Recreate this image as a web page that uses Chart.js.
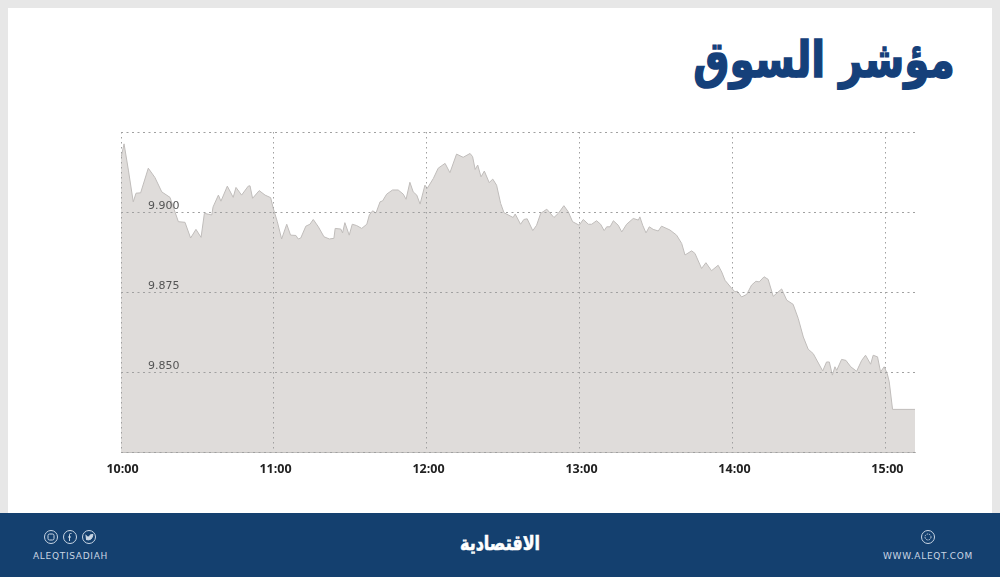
<!DOCTYPE html>
<html lang="ar">
<head>
<meta charset="utf-8">
<title>مؤشر السوق</title>
<script src="https://cdn.jsdelivr.net/npm/chart.js@4"></script>
<style>
  html, body { margin: 0; padding: 0; }
  body { width: 1000px; height: 577px; position: relative; overflow: hidden; background: #e7e7e7; }
  #panel { position: absolute; left: 8px; top: 8px; width: 984px; height: 505px; background: #fff; }
  #title { position: absolute; right: 45px; top: 31px; color: #15407a; direction: rtl;
           font: bold 50px "DejaVu Sans", sans-serif; white-space: nowrap;
           transform: scaleX(0.81); transform-origin: right center; -webkit-text-stroke: 1.6px #15407a; }
  #footer { position: absolute; left: 0; top: 513px; width: 1000px; height: 64px; background: #14406f; }
  #logo { position: absolute; left: 400px; width: 200px; top: 18px; text-align: center; color: #fff;
          direction: rtl; font: bold 20px "DejaVu Sans", sans-serif; transform: scaleX(0.8);
          -webkit-text-stroke: 0.6px #fff; }
  .handle { position: absolute; top: 38px; color: #c9d6e4; font: 9px "DejaVu Sans", sans-serif; letter-spacing: 0.7px; white-space: nowrap; }
  svg { position: absolute; }
  canvas { position: absolute; left: 0; top: 0; }
</style>
</head>
<body>
<div id="panel"></div>
<div id="title">مؤشر السوق</div>
<div id="footer">
  <svg style="left:43px;top:16px" width="56" height="16" viewBox="0 0 56 16" fill="none" stroke="#c9d6e4">
    <circle cx="8" cy="8" r="6.5"/><rect x="5" y="5" width="6" height="6" rx="1.5"/>
    <circle cx="27" cy="8" r="6.5"/><path d="M28.5 4.5h-1q-1 0-1 1V12M25 8h3"/>
    <circle cx="46" cy="8" r="6.5"/><path d="M42.5 6q2 2.5 4 2 0-2.500 2-2.500l1.500 0q-.5 3-2 4.500-2 1.500-5 .5" fill="#c9d6e4"/>
  </svg>
  <div class="handle" style="left:33px">ALEQTISADIAH</div>
  <div id="logo">الاقتصادية</div>
  <svg style="left:920px;top:16px" width="16" height="16" viewBox="0 0 16 16" fill="none" stroke="#c9d6e4">
    <circle cx="8" cy="8" r="6.500"/><circle cx="8" cy="8" r="3" stroke-dasharray="1.500 1"/>
  </svg>
  <div class="handle" style="left:883px">WWW.ALEQT.COM</div>
</div>
<canvas id="myChart" width="1000" height="577"></canvas>

<script>
// minutes since 10:00
const minutes = [0,1.2,2.9,4.8,5.9,7.7,10.7,13.3,16,19.2,20.8,22.5,25.1,27.3,29.4,31.4,32.7,35.6,36.1,38.2,39.2,41.7,44,45.1,47.3,49.9,50.6,51.6,54.2,56.5,58.7,59.7,
  61.3,63,65,66.5,68.6,69.5,70.5,72.5,74.1,75.4,77.4,79.6,81.7,83.5,84,86.2,86.9,87.8,89.5,90.7,92.4,94.4,96.4,97.4,98.7,100,101.6,102.6,104.2,106.5,108.7,110.7,111.8,113.3,114.6,116,117.3,119.2,
  120.1,122.5,124.4,127.1,129,131.6,134.2,136.9,137.9,138.9,139.9,141.2,142.5,144.4,145.8,147.3,148.9,150.2,153.8,154.6,156.7,158,159.3,161.5,163,164.6,167,169.8,171.5,173.7,175.4,177.1,179.7,
  181.3,183.3,184.6,186.5,188.1,189.5,190.5,191.8,193.1,195,196.4,198.3,200.9,202.9,203.5,204.6,205.9,207.2,208.7,210.7,212,215.3,217.9,219.9,221.2,223.8,225.1,227.7,229.4,231.6,234.2,235.6,236.9,239.5,
  240.8,241.7,243.4,245.4,247.3,249,250.3,252.2,253.8,255.8,259.1,261.1,263.6,265.6,267.6,269.5,271.5,275.2,276.7,277.8,279,280,280.7,282.6,284.3,286.2,288.5,290.5,292,294,295,296.7,297.9,299.3,
  300.5,301.3,302.6,311.4];
const index = [9.9169,9.9213,9.9131,9.9032,9.9059,9.9060,9.9137,9.9108,9.9063,9.9046,9.9009,9.8970,9.8968,9.8919,9.8946,9.8921,9.8996,9.8991,9.9016,9.9053,9.9034,9.9081,9.9046,9.9077,9.9053,9.9081,9.9082,9.9043,9.9067,9.9053,9.9045,9.9012,
  9.8970,9.8916,9.8962,9.8928,9.8927,9.8916,9.8919,9.8956,9.8962,9.8977,9.8954,9.8923,9.8916,9.8918,9.8949,9.8947,9.8935,9.8967,9.8928,9.8962,9.8958,9.8949,9.8962,9.8991,9.9004,9.8997,9.9032,9.9035,9.9056,9.9069,9.9069,9.9056,9.9040,9.9093,9.9063,9.9053,9.9025,9.9084,
  9.9074,9.9105,9.9137,9.9152,9.9123,9.9181,9.9171,9.9183,9.9173,9.9133,9.9147,9.9110,9.9128,9.9092,9.9103,9.9084,9.9027,9.8998,9.8983,9.8994,9.8962,9.8977,9.8979,9.8942,9.8959,9.8996,9.9009,9.8983,9.8996,9.9020,9.9001,9.8970,9.8959,
  9.8977,9.8962,9.8962,9.8973,9.8962,9.8942,9.8954,9.8954,9.8973,9.8959,9.8938,9.8962,9.8980,9.8975,9.8985,9.8959,9.8935,9.8954,9.8946,9.8941,9.8956,9.8944,9.8928,9.8902,9.8866,9.8879,9.8871,9.8824,9.8842,9.8817,9.8834,9.8813,9.8787,9.8762,
  9.8751,9.8753,9.8735,9.8743,9.8772,9.8784,9.8782,9.8798,9.8790,9.8737,9.8760,9.8725,9.8712,9.8668,9.8610,9.8572,9.8558,9.8504,9.8532,9.8532,9.8491,9.8517,9.8506,9.8540,9.8537,9.8517,9.8503,9.8537,9.8553,9.8525,9.8553,9.8548,9.8501,9.8517,
  9.8496,9.8470,9.8384,9.8384];
const timeLabels = ['10:00', '11:00', '12:00', '13:00', '14:00', '15:00'];
const valueLabels = { '9.900': true, '9.875': true, '9.850': true };

const ctx = document.getElementById('myChart');

new Chart(ctx, {
  type: 'line',
  data: {
    datasets: [{
      label: 'مؤشر السوق',
      data: minutes.map((m, i) => ({ x: m, y: index[i] })),
      borderColor: '#c0bdbb',
      borderWidth: 1,
      backgroundColor: '#dfdcda',
      fill: 'start',
      pointRadius: 0,
      tension: 0
    }]
  },
  options: {
    responsive: false,
    animation: false,
    layout: { padding: { left: 121, top: 132, right: 85, bottom: 100.7 } },
    plugins: { legend: { display: false }, tooltip: { enabled: false } },
    scales: {
      x: {
        type: 'linear',
        min: 0,
        max: minutes[minutes.length - 1],
        afterFit: (scale) => { scale.height = 24; },
        grid: { color: '#a0a0a0', lineWidth: 1, drawTicks: false, z: 1 },
        border: { display: true, color: '#c2c0be', dash: [1.5, 3.5], z: 1 },
        ticks: {
          stepSize: 60,
          includeBounds: false,
          autoSkip: false,
          maxRotation: 0,
          padding: 10,
          labelOffset: 1.5,
          z: 2,
          color: '#222',
          font: { family: 'Open Sans', size: 12.5, weight: '700' },
          callback: (v) => timeLabels[v / 60]
        }
      },
      y: {
        min: 9.825,
        max: 9.925,
        afterFit: (scale) => { scale.width = 0; },
        grid: { color: '#a0a0a0', lineWidth: 1, drawTicks: false, z: 1 },
        border: { display: false, dash: [2, 3.5], z: 1 },
        ticks: {
          stepSize: 0.025,
          mirror: true,
          padding: 27,
          z: 2,
          color: '#555',
          font: { family: 'DejaVu Sans', size: 11, lineHeight: 1.1 },
          // empty second line lifts the label above its grid line
          callback: (v) => {
            const s = v.toFixed(3);
            return valueLabels[s] ? [s, ''] : '';
          }
        }
      }
    }
  }
});
</script>
</body>
</html>
